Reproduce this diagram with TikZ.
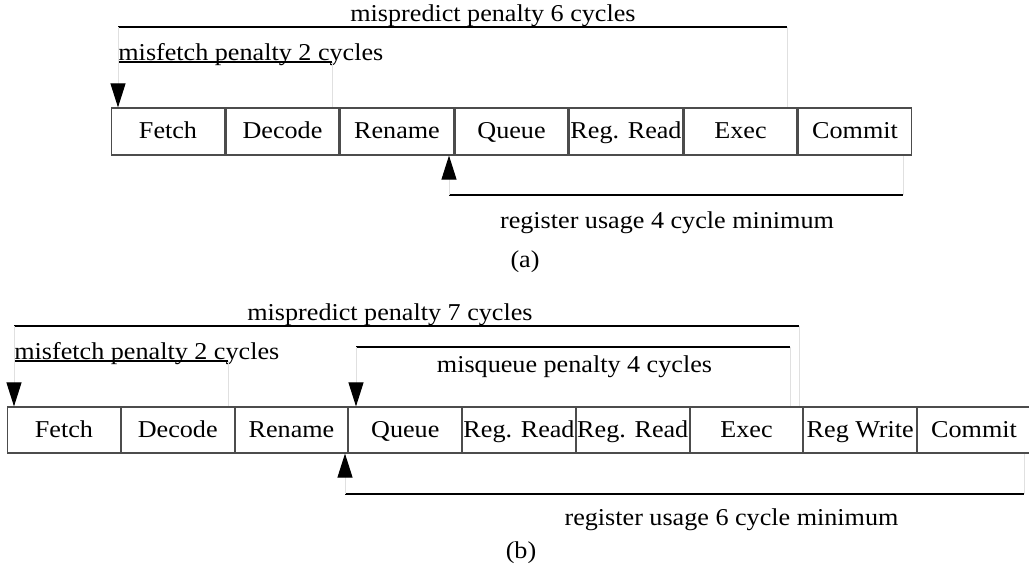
\documentclass[tikz,border=0pt]{standalone}
\usepackage{fontspec}
\setmainfont{Liberation Serif}[FakeStretch=1.08]
\usetikzlibrary{arrows.meta}
\usetikzlibrary{positioning}

\begin{document}
\begin{tikzpicture}[x=0.5pt,y=-0.5pt,node distance=57pt,on grid,
    every node/.style={inner sep=0pt,font=\fontsize{12.1pt}{14pt}\selectfont},
    stage/.style={draw=black!70,line width=0.6pt,minimum width=56.5pt,minimum height=23.5pt,
      text height=9.5pt,text depth=2.5pt},
    span/.style={line width=0.65pt},
    guide/.style={draw=black!12,line width=0.5pt},
    marker/.style={-{Triangle[length=12pt,width=7.5pt,color=black]}}]
    \useasboundingbox (0,0) rectangle (1029,569);

    % (a) pipeline stages
    \begin{scope}[node distance=57.25pt]
    \node[stage] (fetchA) at (168,131.5) {Fetch};
    \node[stage, right=of fetchA] (decodeA) {Decode};
    \node[stage, right=of decodeA] (renameA) {Rename};
    \node[stage, right=of renameA] (queueA) {Queue};
    \node[stage, right=of queueA] (readA) {Reg. Read};
    \node[stage, right=of readA] (execA) {Exec};
    \node[stage, right=of execA] (commitA) {Commit};
    \end{scope}

    % (a) penalty spans
    \coordinate (mpA-l) at (118,27);
    \coordinate (mpA-r) at (787,27);
    \coordinate (mfA-l) at (118,62);
    \coordinate (mfA-r) at (332,62);
    \coordinate (ruA-l) at (449,195);
    \coordinate (ruA-r) at (903,195);
    \node[anchor=base] (mpA-txt) at (493,21.5) {mispredict penalty 6 cycles};
    \node[anchor=base west] (mfA-txt) at (118,60) {misfetch penalty 2 cycles};
    \node[anchor=base] (ruA-txt) at (667,228) {register usage 4 cycle minimum};
    \node (capA) at (525,262) {(a)};

    \draw[span] (mpA-l) -- (mpA-r);
    \draw[span] (mfA-l) -- (mfA-r);
    \draw[span] (ruA-l) -- (ruA-r);
    \path[guide]
      (mpA-r) edge (mpA-r |- execA.north)
      (mfA-r) edge (mfA-r |- decodeA.north)
      (ruA-r) edge (ruA-r |- commitA.south)
      (mpA-l) edge[marker] (mpA-l |- fetchA.north)
      (ruA-l) edge[marker] (ruA-l |- renameA.south);

    % (b) pipeline stages
    \begin{scope}[node distance=56.875pt]
    \node[stage,minimum height=23pt] (fetchB) at (64,430) {Fetch};
    \node[stage,minimum height=23pt, right=of fetchB] (decodeB) {Decode};
    \node[stage,minimum height=23pt, right=of decodeB] (renameB) {Rename};
    \node[stage,minimum height=23pt, right=of renameB] (queueB) {Queue};
    \node[stage,minimum height=23pt, right=of queueB] (readB) {Reg. Read};
    \node[stage,minimum height=23pt, right=of readB] (readC) {Reg. Read};
    \node[stage,minimum height=23pt, right=of readC] (execB) {Exec};
    \node[stage,minimum height=23pt, right=of execB] (writeB) {Reg Write};
    \node[stage,minimum height=23pt, right=of writeB] (commitB) {Commit};
    \end{scope}

    % (b) penalty spans
    \coordinate (mpB-l) at (14,326);
    \coordinate (mpB-r) at (799,326);
    \coordinate (mqB-l) at (356,347);
    \coordinate (mqB-r) at (790,347);
    \coordinate (mfB-l) at (14,361);
    \coordinate (mfB-r) at (228,361);
    \coordinate (ruB-l) at (345,494);
    \coordinate (ruB-r) at (1024,494);
    \node[anchor=base] (mpB-txt) at (390,320) {mispredict penalty 7 cycles};
    \node[anchor=base west] (mfB-txt) at (14,359) {misfetch penalty 2 cycles};
    \node[anchor=base] (mqB-txt) at (574.5,372) {misqueue penalty 4 cycles};
    \node[anchor=base] (ruB-txt) at (731.5,525) {register usage 6 cycle minimum};
    \node (capB) at (521,553) {(b)};

    \draw[span] (mpB-l) -- (mpB-r);
    \draw[span] (mqB-l) -- (mqB-r);
    \draw[span] (mfB-l) -- (mfB-r);
    \draw[span] (ruB-l) -- (ruB-r);
    \path[guide]
      (mpB-r) edge (mpB-r |- execB.north)
      (mqB-r) edge (mqB-r |- execB.north)
      (mfB-r) edge (mfB-r |- decodeB.north)
      (ruB-r) edge (ruB-r |- commitB.south)
      (mpB-l) edge[marker] (mpB-l |- fetchB.north)
      (mqB-l) edge[marker] (mqB-l |- queueB.north)
      (ruB-l) edge[marker] (ruB-l |- renameB.south);
\end{tikzpicture}
\end{document}
